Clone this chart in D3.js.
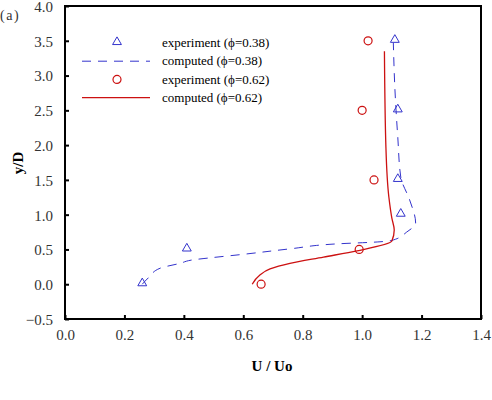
<!DOCTYPE html>
<html>
<head>
<meta charset="utf-8">
<script src="https://cdn.jsdelivr.net/npm/d3@7"></script>
<style>
  body { margin: 0; background: #fff; }
  svg { display: block; }
</style>
</head>
<body>
<svg id="graph" width="492" height="400"></svg>
<script>
// experiment points and computed curves
var exp38U = [0.26, 0.41, 1.13, 1.12, 1.12, 1.11];
var exp38Y = [0.0, 0.5, 1.0, 1.5, 2.5, 3.5];
var exp62U = [0.66, 0.99, 1.04, 1.00, 1.02];
var exp62Y = [0.0, 0.5, 1.5, 2.5, 3.5];

var comp38U = [0.26, 0.28, 0.32, 0.387, 0.43, 0.49, 0.60, 0.76, 0.915, 1.06, 1.10, 1.15, 1.18, 1.16, 1.13, 1.12, 1.11, 1.105];
var comp38Y = [0.0, 0.09, 0.23, 0.30, 0.35, 0.38, 0.43, 0.51, 0.58, 0.61, 0.63, 0.75, 0.88, 1.21, 1.54, 2.11, 2.83, 3.47];
var comp62U = [0.63, 0.655, 0.69, 0.757, 0.87, 0.983, 1.10, 1.108, 1.10, 1.09, 1.08, 1.075];
var comp62Y = [0.0, 0.13, 0.22, 0.30, 0.39, 0.48, 0.62, 0.78, 0.95, 1.25, 1.97, 3.35];

var xTicks = [0, 0.2, 0.4, 0.6, 0.8, 1.0, 1.2, 1.4];
var yTicks = [-0.5, 0, 0.5, 1.0, 1.5, 2.0, 2.5, 3.0, 3.5, 4.0];

var legendLabels = ["experiment (\u03d5=0.38)", "computed (\u03d5=0.38)",
                    "experiment (\u03d5=0.62)", "computed (\u03d5=0.62)"];

var blue = "#3333cc", red = "#cc1111";
var serif = "'Liberation Serif', 'Times New Roman', serif";

var margin = { top: 6, right: 11, bottom: 81, left: 65 },
    width = 492 - margin.left - margin.right,
    height = 400 - margin.top - margin.bottom;

var svg = d3.select("#graph");
var graph = svg.append("g")
    .attr("transform", "translate(" + margin.left + "," + margin.top + ")");

var x = d3.scaleLinear().domain([0, 1.4]).range([0, width]),
    y = d3.scaleLinear().domain([-0.5, 4.0]).range([height, 0]);

var zip = function (us, ys) { return us.map(function (u, i) { return [u, ys[i]]; }); };

var line = d3.line()
    .x(function (d) { return x(d[0]); })
    .y(function (d) { return y(d[1]); })
    .curve(d3.curveMonotoneY);

// axes
var xAxis = graph.append("g")
    .attr("transform", "translate(0," + height + ")")
    .call(d3.axisBottom(x).tickValues(xTicks).tickSizeInner(-4).tickSizeOuter(0).tickPadding(10)
        .tickFormat(d3.format(".1f")));
var yAxis = graph.append("g")
    .call(d3.axisLeft(y).tickValues(yTicks).tickSizeInner(-4).tickSizeOuter(0).tickPadding(12)
        .tickFormat(d3.format(".1f")));
[xAxis, yAxis].forEach(function (a) {
    a.select(".domain").remove();
    a.selectAll(".tick line").attr("stroke", "#000").attr("stroke-width", 2);
    a.selectAll(".tick text")
        .style("font-family", serif).style("font-size", "15px").style("fill", "#333");
});
yAxis.selectAll(".tick text").attr("dy", "0.36em");

// frame
graph.append("rect")
    .attr("width", width).attr("height", height)
    .attr("fill", "none").attr("stroke", "#000").attr("stroke-width", 2);

// computed curves
graph.append("path")
    .attr("d", line(zip(comp38U, comp38Y)))
    .attr("fill", "none").attr("stroke", blue).attr("stroke-width", 1)
    .attr("stroke-dasharray", "9,7");
graph.append("path")
    .attr("d", line(zip(comp62U, comp62Y)))
    .attr("fill", "none").attr("stroke", red).attr("stroke-width", 1.3);

// experiment markers
var tri = d3.symbol().type(d3.symbolTriangle).size(34);
graph.selectAll(".tri")
    .data(zip(exp38U, exp38Y))
    .enter().append("path")
    .attr("class", "tri")
    .attr("transform", function (d) { return "translate(" + x(d[0]) + "," + (y(d[1]) - 1) + ")"; })
    .attr("d", tri)
    .attr("fill", "none").attr("stroke", blue).attr("stroke-width", 1);

graph.selectAll(".circ")
    .data(zip(exp62U, exp62Y))
    .enter().append("circle")
    .attr("class", "circ")
    .attr("cx", function (d) { return x(d[0]); })
    .attr("cy", function (d) { return y(d[1]); })
    .attr("r", 4)
    .attr("fill", "none").attr("stroke", red).attr("stroke-width", 1.2);

// legend
var legend = svg.append("g").attr("transform", "translate(82,43)");
legendLabels.forEach(function (label, i) {
    var row = legend.append("g").attr("transform", "translate(0," + (i * 18.2) + ")");
    if (i === 0) {
        row.append("path").attr("transform", "translate(35,-1)").attr("d", tri)
            .attr("fill", "none").attr("stroke", blue);
    } else if (i === 1) {
        row.append("line").attr("x1", 0).attr("x2", 68)
            .attr("stroke", blue).attr("stroke-dasharray", "9,7");
    } else if (i === 2) {
        row.append("circle").attr("cx", 35).attr("r", 4)
            .attr("fill", "none").attr("stroke", red).attr("stroke-width", 1.2);
    } else {
        row.append("line").attr("x1", 0).attr("x2", 68)
            .attr("stroke", red).attr("stroke-width", 1.3);
    }
    row.append("text")
        .attr("x", 80).attr("dy", "0.33em")
        .style("font-family", serif).style("font-size", "13px")
        .text(label);
});

// labels
svg.append("text")
    .attr("x", 272).attr("y", 371)
    .attr("text-anchor", "middle")
    .style("font-family", serif).style("font-size", "15px").style("font-weight", "bold")
    .text("U / Uo");
svg.append("text")
    .attr("transform", "translate(23,163) rotate(-90)")
    .attr("text-anchor", "middle")
    .style("font-family", serif).style("font-size", "15px").style("font-weight", "bold")
    .text("y/D");
svg.append("text")
    .attr("x", 0).attr("y", 20)
    .style("font-family", serif).style("font-size", "14px").style("fill", "#333")
    .style("letter-spacing", "1.5px")
    .text("(a)");
</script>
</body>
</html>
